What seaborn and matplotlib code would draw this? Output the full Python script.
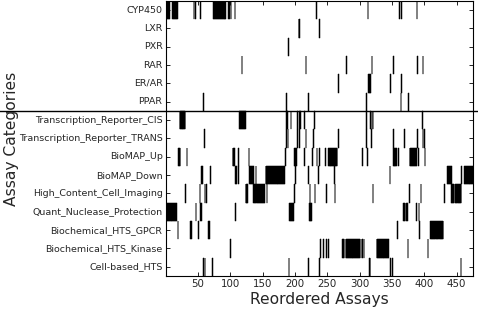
import numpy as np
import pandas as pd
import matplotlib
matplotlib.use("Agg")
import matplotlib.pyplot as plt
import seaborn as sns

# Categories (top to bottom) and active assays.
# Each entry is a (first, last) run of reordered assay numbers.
categories = ['CYP450', 'LXR', 'PXR', 'RAR', 'ER/AR', 'PPAR',
              'Transcription_Reporter_CIS', 'Transcription_Reporter_TRANS',
              'BioMAP_Up', 'BioMAP_Down', 'High_Content_Cell_Imaging',
              'Quant_Nuclease_Protection', 'Biochemical_HTS_GPCR',
              'Biochemical_HTS_Kinase', 'Cell-based_HTS']
n_assays = 475

cyp450 = [(1, 6), (11, 18), (44, 44), (46, 46), (54, 54), (74, 93), (97, 97), (99, 99),
          (101, 101), (107, 107), (233, 233), (313, 313), (362, 362), (365, 365), (389, 389)]
lxr = [(206, 207), (238, 238)]
pxr = [(190, 190)]
rar = [(118, 118), (217, 217), (280, 280), (319, 319), (352, 352), (390, 390), (398, 398)]
er_ar = [(267, 267), (314, 317), (348, 348), (365, 365)]
ppar = [(59, 59), (187, 187), (221, 221), (311, 311), (364, 364), (376, 376)]
tr_cis = [(22, 30), (114, 123), (187, 188), (194, 194), (204, 204), (207, 207), (209, 209),
          (215, 215), (230, 230), (311, 311), (317, 317), (319, 319), (321, 321), (397, 397)]
tr_trans = [(60, 60), (187, 187), (189, 189), (204, 204), (207, 207), (217, 217), (229, 229),
            (267, 267), (311, 311), (318, 318), (352, 352), (369, 369), (390, 390),
            (398, 398), (400, 400)]
biomap_up = [(20, 22), (33, 33), (104, 106), (113, 113), (129, 129), (185, 185), (199, 202),
             (215, 215), (227, 227), (234, 234), (238, 238), (247, 247), (252, 265),
             (304, 304), (312, 312), (352, 357), (360, 360), (378, 388), (391, 391), (401, 401)]
biomap_down = [(55, 57), (69, 69), (108, 110), (113, 113), (130, 136), (140, 140), (155, 184),
               (201, 201), (221, 221), (236, 236), (261, 261), (347, 347), (436, 442),
               (458, 458), (462, 475)]
hcci = [(31, 31), (53, 53), (61, 61), (63, 63), (124, 127), (136, 139), (141, 153), (157, 157),
        (199, 199), (223, 223), (231, 231), (249, 249), (262, 262), (321, 321), (377, 377),
        (395, 395), (431, 431), (442, 446), (448, 451), (453, 457)]
qnp = [(1, 17), (47, 47), (54, 55), (108, 108), (192, 198), (222, 226), (368, 370),
       (373, 374), (388, 388), (392, 392)]
gpcr = [(19, 19), (38, 38), (40, 40), (51, 51), (66, 66), (68, 68), (359, 359), (393, 393),
        (410, 417), (419, 422), (424, 429)]
kinase = [(100, 100), (240, 240), (244, 244), (249, 249), (252, 252), (274, 276), (279, 300),
          (302, 302), (304, 304), (307, 307), (327, 345), (375, 375), (406, 406)]
cell_based = [(59, 59), (61, 61), (72, 72), (191, 191), (221, 221), (238, 238), (315, 316),
              (348, 348), (351, 351), (457, 457)]

runs = [cyp450, lxr, pxr, rar, er_ar, ppar, tr_cis, tr_trans, biomap_up, biomap_down,
        hcci, qnp, gpcr, kinase, cell_based]

# build the presence matrix
mat = np.zeros((len(categories), n_assays))
for i, cat_runs in enumerate(runs):
    for a, b in cat_runs:
        mat[i, a - 1:b] = 1
df = pd.DataFrame(mat, index=categories, columns=np.arange(1, n_assays + 1))

sns.set_theme(style='white')
plt.rcParams['font.family'] = ['DejaVu Sans']

fig = plt.figure(figsize=(4.78, 3.10), dpi=100)
ax = fig.add_axes([0.3473, 0.1097, 0.6423, 0.8871])

sns.heatmap(df, ax=ax, mask=(df == 0), cmap='Greys', vmin=0, vmax=1, cbar=False,
            xticklabels=False, yticklabels=categories, linewidths=0.35,
            linecolor='face', antialiased=True)

ax.set_facecolor('white')
for s in ax.spines.values():
    s.set_visible(True)
    s.set_color('black')
    s.set_linewidth(0.8)

xt = [50, 100, 150, 200, 250, 300, 350, 400, 450]
ax.set_xticks([v - 0.5 for v in xt])
ax.set_xticklabels([str(v) for v in xt])
ax.set_yticks(np.arange(len(categories)) + 0.5)
ax.set_yticklabels(categories, rotation=0)
ax.tick_params(direction='in', top=True, right=True, bottom=True, left=True,
               length=3, width=0.6, color='black', labelsize=6.8, pad=2.5)
ax.tick_params(axis='x', labelsize=7.4)

# separator between nuclear receptor rows and the assay technology rows
ax.axhline(6, xmin=-0.55, xmax=1.02, color='black', lw=1.0, clip_on=False)

ax.set_xlabel('Reordered Assays', fontsize=11.2, labelpad=2)
ax.set_ylabel('Assay Categories', fontsize=11.2)
ax.yaxis.set_label_coords(-0.48, 0.5)

fig.savefig('out.png', dpi=100, facecolor='white')
